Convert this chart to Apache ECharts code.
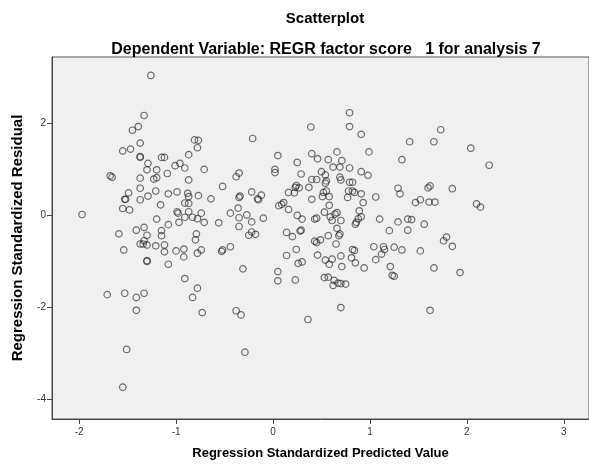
<!DOCTYPE html>
<html>
<head>
<meta charset="utf-8">
<script src="https://cdn.jsdelivr.net/npm/echarts@6/dist/echarts.min.js"></script>
<style>html,body{margin:0;padding:0;background:#fff;}#c{width:589px;height:466px;}</style>
</head>
<body>
<div id="c"></div>
<script>
const titleText = "Scatterplot";
const subtitleText = "Dependent Variable: REGR factor score   1 for analysis 7";
const xAxisName = "Regression Standardized Predicted Value";
const yAxisName = "Regression Standardized Residual";
const xTicks = [-2, -1, 0, 1, 2, 3];
const yTicks = [-4, -2, 0, 2];

// Regression standardized predicted values (x)
const predicted = [
-1.26,-1.33,-1.39,-1.45,-1.37,-1.55,-1.47,-1.37,-1.37,-1.29,-1.30,-1.20,-1.15,-1.12,-1.09,-1.01,-0.96,-0.91,-0.87,-0.81,
-0.77,-0.78,-0.71,-1.68,-1.66,-1.37,-1.20,-1.23,-0.87,-0.52,-1.49,-1.52,-1.53,-1.37,-1.37,-1.29,-1.21,-1.08,-0.99,-0.88,
-0.87,-0.77,-0.64,-1.55,-1.48,-1.16,-0.91,-0.87,-0.99,-0.98,-0.87,-0.74,-0.44,-1.97,-0.91,-0.83,-0.78,-0.71,-0.56,-0.97,
-1.20,-1.08,-1.33,-1.41,-1.59,-1.30,-1.15,-1.15,-0.79,-0.80,-1.33,-1.37,-1.34,-1.30,-1.21,-1.12,-1.12,-1.54,-1.00,-0.92,
-0.92,-0.78,-0.74,-0.53,-0.52,-0.44,-1.30,-1.30,-1.08,-0.91,-0.78,-1.71,-1.53,-1.41,-1.33,-1.41,-0.83,-0.73,-0.38,-0.33,
-0.29,-1.51,-1.55,0.05,0.23,0.70,0.36,1.62,-0.21,0.39,0.79,0.79,0.91,0.05,0.40,0.46,0.66,0.57,0.71,0.99,
0.25,0.02,0.02,0.29,0.50,0.54,0.62,0.69,0.79,0.91,0.98,-0.35,-0.38,0.40,0.45,0.55,0.54,0.69,0.70,0.79,
0.82,0.24,0.23,0.27,0.16,0.22,0.37,0.52,0.55,0.51,0.58,0.40,0.78,0.82,0.84,0.77,0.91,0.93,-0.22,-0.12,
-0.16,-0.15,-0.34,-0.35,0.11,0.09,0.06,0.16,0.58,0.53,0.66,0.64,0.59,0.61,0.89,0.91,0.88,0.86,0.85,0.70,
0.43,0.45,0.25,0.30,-0.36,-0.27,-0.35,-0.22,-0.10,-0.35,-0.22,-0.25,-0.18,0.14,0.20,0.29,0.28,0.66,0.69,0.68,
0.57,0.49,0.43,0.45,0.65,0.24,0.82,0.84,0.14,0.26,0.30,0.46,0.54,0.61,0.58,0.70,0.71,0.81,0.85,0.94,
-0.31,0.05,0.53,0.57,0.63,0.62,0.67,0.70,0.75,1.73,1.41,1.66,1.33,2.04,2.23,1.29,1.31,1.06,1.60,1.62,
1.85,1.47,1.52,1.61,1.67,2.10,2.14,1.10,1.29,1.39,1.43,1.56,1.20,1.39,1.76,1.79,1.85,1.04,1.14,1.15,
1.25,1.33,1.52,1.12,1.06,1.21,1.23,1.25,1.66,1.93
];
// Regression standardized residuals (y)
const residual = [
3.03,2.16,1.92,1.84,1.56,1.39,1.43,1.27,1.25,1.12,0.98,0.98,1.25,1.25,0.90,1.07,1.12,1.02,1.31,1.63,
1.62,1.46,0.99,0.85,0.82,0.80,0.81,0.78,0.76,0.62,0.48,0.34,0.34,0.58,0.33,0.41,0.52,0.46,0.50,0.47,
0.40,0.42,0.35,0.14,0.11,0.22,0.26,0.25,0.07,0.04,0.07,0.04,0.04,0.01,-0.05,-0.05,-0.08,-0.16,-0.17,-0.16,
-0.09,-0.21,-0.27,-0.33,-0.41,-0.44,-0.34,-0.45,-0.41,-0.54,-0.56,-0.63,-0.63,-0.65,-0.67,-0.65,-0.80,-0.76,-0.78,-0.74,
-0.91,-0.83,-0.76,-0.79,-0.76,-0.69,-0.99,-1.01,-1.07,-1.38,-1.59,-1.73,-1.70,-1.79,-1.70,-2.07,-1.79,-2.12,-2.08,-2.17,
-2.98,-2.92,-3.74,-1.43,-1.41,-2.01,-2.27,-2.07,1.66,1.91,2.22,1.92,1.75,1.29,1.33,1.22,1.37,1.20,1.18,1.37,
1.14,0.99,0.92,0.89,0.94,0.87,1.04,1.04,1.02,0.94,0.86,0.91,0.83,0.77,0.77,0.74,0.69,0.82,0.76,0.71,
0.71,0.64,0.60,0.59,0.49,0.48,0.60,0.49,0.52,0.40,0.40,0.34,0.52,0.52,0.49,0.38,0.46,0.27,0.50,0.43,
0.35,0.33,0.41,0.38,0.27,0.23,0.20,0.12,0.21,0.06,0.05,0.02,-0.04,-0.12,0.09,-0.04,-0.08,-0.16,-0.20,-0.12,
-0.09,-0.07,-0.01,-0.09,0.15,0.00,-0.06,-0.15,-0.07,-0.25,-0.37,-0.44,-0.42,-0.38,-0.47,-0.33,-0.35,-0.29,-0.41,-0.45,
-0.45,-0.54,-0.57,-0.60,-0.63,-0.75,-0.75,-0.77,-0.88,-1.05,-1.02,-0.87,-0.98,-0.96,-1.07,-0.89,-1.12,-0.93,-1.04,-1.15,
-1.17,-1.23,-1.36,-1.35,-1.42,-1.53,-1.48,-1.49,-1.50,1.85,1.59,1.59,1.20,1.45,1.08,0.58,0.46,0.39,0.59,0.63,
0.57,0.27,0.33,0.28,0.28,0.24,0.17,-0.09,-0.15,-0.09,-0.10,-0.20,-0.34,-0.33,-0.56,-0.48,-0.68,-0.69,-0.69,-0.75,
-0.70,-0.76,-0.78,-0.85,-0.97,-1.12,-1.31,-1.33,-1.15,-1.25
];

const points = predicted.map((x, i) => [x, residual[i]]);
const font = "Arial, 'Liberation Sans', sans-serif";
const chart = echarts.init(document.getElementById('c'), null, {renderer: 'canvas'});
chart.setOption({
  animation: false,
  backgroundColor: '#ffffff',
  title: [
    {text: titleText, left: 320, top: 6, textAlign: 'center',
     textStyle: {fontFamily: font, fontSize: 15, fontWeight: 'bold', color: '#000'}},
    {text: subtitleText, left: 321, top: 37, textAlign: 'center',
     textStyle: {fontFamily: font, fontSize: 16, fontWeight: 'bold', color: '#000'}}
  ],
  grid: {left: 52, top: 57, right: 0, bottom: 47, show: true,
         backgroundColor: '#f0f0f0', borderColor: '#555', borderWidth: 1},
  xAxis: {
    type: 'value', min: -2.28, max: 3.26,
    name: xAxisName, nameLocation: 'middle', nameGap: 28,
    nameTextStyle: {fontFamily: font, fontSize: 13, fontWeight: 'bold', color: '#000'},
    axisLine: {show: true, onZero: false, lineStyle: {color: '#444', width: 1}},
    axisTick: {show: true, length: 5, customValues: xTicks, lineStyle: {color: '#444'}},
    axisLabel: {customValues: xTicks, fontFamily: font, fontSize: 10, color: '#333', margin: 8},
    splitLine: {show: false}
  },
  yAxis: {
    type: 'value', min: -4.43, max: 3.43,
    name: yAxisName, nameLocation: 'middle', nameGap: 27, nameRotate: 90,
    nameTextStyle: {fontFamily: font, fontSize: 15, fontWeight: 'bold', color: '#000'},
    axisLine: {show: true, onZero: false, lineStyle: {color: '#444', width: 1}},
    axisTick: {show: true, length: 5, customValues: yTicks, lineStyle: {color: '#444'}},
    axisLabel: {customValues: yTicks, fontFamily: font, fontSize: 10, color: '#333', margin: 6},
    splitLine: {show: false}
  },
  series: [{
    type: 'scatter',
    data: points,
    symbol: 'circle',
    symbolSize: 6.5,
    itemStyle: {color: 'rgba(0,0,0,0)', borderColor: 'rgba(30,30,30,0.8)', borderWidth: 1.2}
  }]
});
</script>
</body>
</html>
